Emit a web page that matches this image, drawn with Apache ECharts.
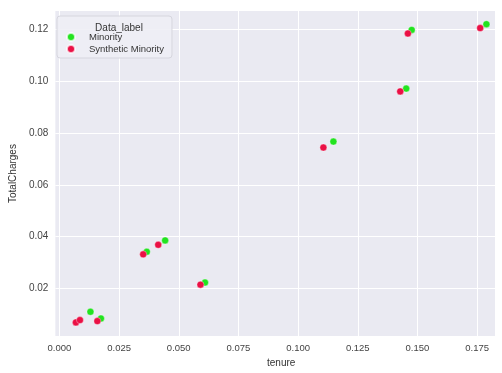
<!DOCTYPE html>
<html>
<head>
<meta charset="utf-8">
<script src="https://cdn.jsdelivr.net/npm/echarts@6/dist/echarts.min.js"></script>
<style>
  html, body { margin: 0; padding: 0; background: #fff; }
  #chart { width: 502px; height: 373px; }
</style>
</head>
<body>
<div id="chart"></div>
<script>
// values
const minorityTenure = [0.0130, 0.0174, 0.0366, 0.0443, 0.0610, 0.1148, 0.1453, 0.1476, 0.1789];
const minorityCharges = [0.0109, 0.0083, 0.0341, 0.0385, 0.0222, 0.0767, 0.0972, 0.1199, 0.1221];

const synthTenure = [0.0069, 0.0086, 0.0159, 0.0351, 0.0414, 0.0591, 0.1106, 0.1428, 0.1460, 0.1763];
const synthCharges = [0.0068, 0.0077, 0.0073, 0.0331, 0.0368, 0.0214, 0.0744, 0.0961, 0.1185, 0.1206];

const xTicks = [0, 0.025, 0.05, 0.075, 0.1, 0.125, 0.15, 0.175];
const yTicks = [0.02, 0.04, 0.06, 0.08, 0.1, 0.12];

const pairs = (xs, ys) => xs.map((x, i) => [x, ys[i]]);

const chart = echarts.init(document.getElementById('chart'));
const font = 'Liberation Sans, Arial, sans-serif';

chart.setOption({
    backgroundColor: '#ffffff',
    animation: false,
    grid: { left: 50, right: 7, top: 11, bottom: 31, show: true, backgroundColor: '#eaeaf2', borderWidth: 0 },
    title: {
        text: 'Data_label',
        left: 114, top: 18, textAlign: 'center',
        textStyle: { fontFamily: font, fontSize: 10, fontWeight: 'normal', color: '#333' }
    },
    legend: {
        orient: 'vertical',
        left: 57, top: 16,
        width: 117,
        padding: [16, 8, 4, 9],
        itemGap: 2,
        itemWidth: 8, itemHeight: 8,
        backgroundColor: 'rgba(238,238,245,0.9)',
        borderColor: '#d6d6de', borderWidth: 1, borderRadius: 3,
        textStyle: { fontFamily: font, fontSize: 9.5, color: '#333', padding: [0, 0, 0, 9] },
        data: [
            { name: 'Minority', icon: 'circle' },
            { name: 'Synthetic Minority', icon: 'circle' }
        ]
    },
    xAxis: {
        type: 'value',
        min: -0.0017, max: 0.1825,
        name: 'tenure', nameLocation: 'middle', nameGap: 21,
        nameTextStyle: { fontFamily: font, fontSize: 10, color: '#333', padding: [0, 0, 0, 12] },
        axisLine: { show: false },
        axisTick: { show: false, customValues: xTicks },
        axisLabel: {
            customValues: xTicks, margin: 7,
            fontFamily: font, fontSize: 9.5, color: '#444',
            formatter: v => v.toFixed(3)
        },
        splitLine: { show: true, lineStyle: { color: '#ffffff', width: 1 } }
    },
    yAxis: {
        type: 'value',
        min: 0.0015, max: 0.1272,
        name: 'TotalCharges', nameLocation: 'middle', nameGap: 31,
        nameTextStyle: { fontFamily: font, fontSize: 10, color: '#333' },
        axisLine: { show: false },
        axisTick: { show: false, customValues: yTicks },
        axisLabel: {
            customValues: yTicks, margin: 7,
            fontFamily: font, fontSize: 10, color: '#444',
            formatter: v => v.toFixed(2)
        },
        splitLine: { show: true, lineStyle: { color: '#ffffff', width: 1 } }
    },
    series: [
        {
            name: 'Minority', type: 'scatter',
            symbolSize: 7,
            itemStyle: { color: '#22e31f', borderColor: 'rgba(255,255,255,0.7)', borderWidth: 0.5, opacity: 1 },
            data: pairs(minorityTenure, minorityCharges)
        },
        {
            name: 'Synthetic Minority', type: 'scatter',
            symbolSize: 7,
            itemStyle: { color: '#ea1045', borderColor: 'rgba(255,255,255,0.7)', borderWidth: 0.5, opacity: 1 },
            data: pairs(synthTenure, synthCharges)
        }
    ]
});
</script>
</body>
</html>
